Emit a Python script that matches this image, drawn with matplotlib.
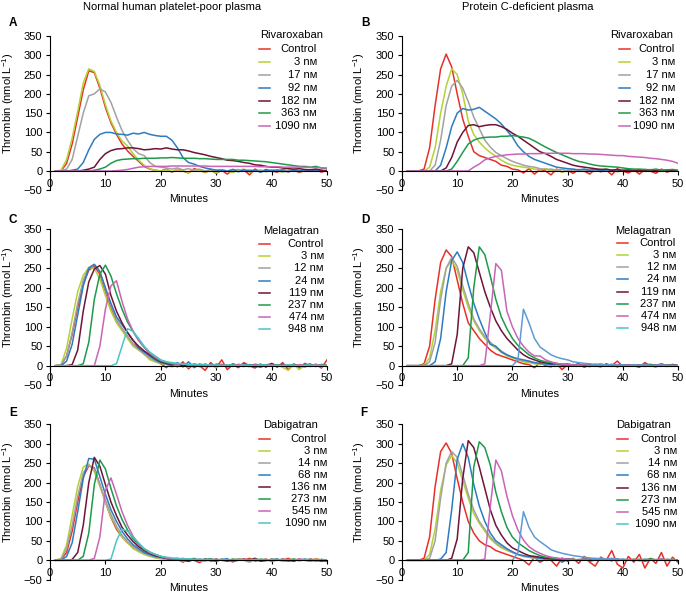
import numpy as np
import matplotlib
matplotlib.use('Agg')
import matplotlib.pyplot as plt
from matplotlib.lines import Line2D

plt.rcParams['font.family'] = ['Liberation Sans', 'DejaVu Sans']
plt.rcParams['mathtext.fontset'] = 'custom'
plt.rcParams['mathtext.rm'] = 'Liberation Sans'
plt.rcParams['mathtext.it'] = 'Liberation Sans:italic'
plt.rcParams['mathtext.bf'] = 'Liberation Sans:bold'

# ---------------- data (thrombin, nmol/L, sampled each minute 1..50) ----------------
minutes = np.arange(1, 51)

x_ticks = [0, 10, 20, 30, 40, 50]
y_ticks = [-50, 0, 50, 100, 150, 200, 250, 300, 350]

riva_labels = ['Control', '3 nᴍ', '17 nᴍ', '92 nᴍ', '182 nᴍ', '363 nᴍ', '1090 nᴍ']
mela_labels = ['Control', '3 nᴍ', '12 nᴍ', '24 nᴍ', '119 nᴍ', '237 nᴍ', '474 nᴍ', '948 nᴍ']
dabi_labels = ['Control', '3 nᴍ', '14 nᴍ', '68 nᴍ', '136 nᴍ', '273 nᴍ', '545 nᴍ', '1090 nᴍ']

# Panel A: normal plasma, rivaroxaban
a_ctrl = [0, 0, 20, 70, 140, 210, 260, 255, 215, 165,
          125, 95, 70, 52, 38, 25, 12, 5, 2, 0,
          5, -3, 4, 0, -5, 6, 2, -4, 3, -6,
          2, -8, 4, 0, 3, -10, 5, -2, 4, 0,
          -3, 5, -2, 3, -4, 2, 0, 4, -3, 2]
a_3 = [0, 2, 30, 85, 155, 228, 265, 258, 222, 172,
       130, 100, 78, 65, 45, 28, 15, 6, 2, 0,
       3, -2, 5, 0, -4, 3, 1, -3, 2, -5,
       3, 0, -4, 2, 5, -3, 0, 2, -2, 3,
       0, -3, 2, 4, -2, 0, 3, -1, 2, 0]
a_17 = [0, 0, 5, 30, 90, 150, 195, 200, 213, 205,
        178, 140, 105, 80, 58, 45, 40, 22, 12, 10,
        8, 5, 8, 3, 6, 2, 5, 0, 4, 2,
        3, 0, 2, 4, 0, 3, 1, 2, 0, 3,
        1, 2, 0, 3, 1, 2, 0, 2, 1, 0]
a_92 = [0, 0, 0, 2, 5, 22, 55, 82, 95, 100,
        100, 96, 95, 93, 98, 96, 100, 95, 92, 90,
        90, 80, 60, 35, 22, 18, 12, 8, 5, 2,
        2, 0, 4, -2, 3, 0, 2, -3, 2, 0,
        3, 0, -2, 2, 0, 3, -1, 2, 0, 1]
a_182 = [0, 0, 0, 0, 0, 2, 5, 10, 30, 45,
         53, 57, 58, 60, 60, 58, 55, 56, 58, 57,
         60, 57, 55, 55, 52, 48, 45, 42, 38, 35,
         32, 28, 27, 25, 22, 20, 16, 15, 12, 10,
         10, 8, 6, 5, 6, 4, 3, 5, 2, 0]
a_363 = [0, 0, 0, 0, 0, 0, 0, 2, 5, 10,
         20, 27, 30, 31, 32, 32, 33, 33, 33, 34,
         34, 35, 34, 33, 33, 33, 32, 32, 31, 30,
         30, 30, 30, 28, 28, 27, 26, 25, 24, 22,
         20, 18, 16, 14, 12, 12, 10, 12, 8, 6]
a_1090 = [0, 0, 0, 0, 0, 0, 0, 0, 0, 0,
          0, 1, 2, 4, 7, 10, 11, 12, 12, 12,
          12, 13, 13, 13, 13, 13, 13, 13, 12, 12,
          12, 12, 12, 12, 12, 12, 12, 11, 11, 11,
          11, 10, 10, 10, 10, 10, 9, 9, 8, 8]

# Panel B: protein C-deficient plasma, rivaroxaban
b_ctrl = [0, 0, 0, 5, 60, 170, 265, 303, 270, 200,
          135, 90, 50, 40, 35, 30, 25, 15, 12, 5,
          3, -5, 6, -8, 4, 0, -10, 5, -3, 2,
          -6, 4, 0, -8, 5, -2, 3, -10, 6, 0,
          -5, 3, -8, 4, 0, -6, 5, -3, 2, 0]
b_3 = [0, 0, 0, 0, 10, 60, 150, 220, 265, 250,
       200, 130, 95, 75, 60, 48, 38, 28, 20, 15,
       12, 10, 8, 5, 3, 6, 0, 4, -3, 2,
       3, 0, 4, -2, 2, 5, 0, 3, -2, 2,
       0, 3, -2, 2, 4, 0, 2, -1, 3, 0]
b_17 = [0, 0, 0, 0, 0, 15, 80, 170, 220, 235,
        215, 180, 140, 110, 80, 62, 48, 40, 32, 25,
        20, 15, 12, 10, 6, 4, 5, 2, 4, 0,
        3, 2, 0, 3, 1, 2, 0, 2, 3, 0,
        2, 1, 3, 0, 2, 1, 0, 2, 1, 0]
b_92 = [0, 0, 0, 0, 0, 0, 15, 60, 115, 150,
        162, 158, 160, 165, 155, 145, 135, 122, 105, 88,
        65, 50, 38, 30, 25, 20, 15, 10, 8, 6,
        5, 3, 5, 2, 4, 0, 3, 2, 0, 3,
        2, 0, 3, 1, 2, 0, 2, 1, 0, 2]
b_182 = [0, 0, 0, 0, 0, 0, 0, 8, 35, 75,
         100, 118, 120, 115, 118, 120, 120, 115, 108, 98,
         90, 80, 70, 60, 50, 45, 38, 30, 25, 20,
         15, 12, 10, 8, 6, 4, 5, 2, 4, 0,
         3, 1, 2, 0, 2, 1, 0, 2, 1, 0]
b_363 = [0, 0, 0, 0, 0, 0, 0, 0, 5, 25,
         48, 70, 80, 85, 87, 88, 88, 90, 90, 92,
         90, 88, 85, 78, 70, 62, 55, 48, 42, 36,
         30, 25, 22, 18, 15, 13, 12, 11, 10, 8,
         6, 5, 5, 4, 3, 5, 2, 3, 4, 2]
b_1090 = [0, 0, 0, 0, 0, 0, 0, 0, 0, 0,
          0, 0, 10, 18, 29, 34, 38, 40, 42, 43,
          44, 44, 45, 45, 45, 46, 46, 46, 46, 46,
          45, 45, 45, 44, 44, 43, 42, 41, 40, 40,
          38, 37, 36, 35, 33, 32, 30, 28, 25, 20]

# Panel C: normal plasma, melagatran
c_ctrl = [0, 2, 25, 80, 150, 210, 245, 255, 235, 190,
          150, 115, 95, 75, 55, 45, 30, 20, 12, 5,
          -5, 8, -3, 10, -8, 5, 0, -12, 8, -5,
          15, -10, 3, -5, 8, 0, -6, 4, -3, 6,
          -4, 8, -10, 3, -5, 6, -2, 4, -6, 15]
c_3 = [0, 3, 45, 120, 190, 232, 252, 250, 222, 180,
       140, 110, 90, 70, 50, 40, 30, 15, 10, 5,
       3, -3, 5, 0, -4, 3, 1, -3, 2, -5,
       3, 0, -2, 4, 2, -3, 5, 0, -2, 3,
       2, -4, -12, 3, -10, 2, 0, 4, -3, 2]
c_12 = [0, 2, 25, 85, 160, 220, 252, 260, 240, 195,
        155, 118, 95, 75, 55, 42, 30, 20, 12, 6,
        4, 0, 3, -2, 2, 0, 3, -1, 2, 0,
        2, 0, 3, -2, 1, 0, 2, -1, 3, 0,
        1, 0, 2, -2, 1, 0, 3, 0, 2, 0]
c_24 = [0, 0, 12, 55, 130, 205, 250, 260, 242, 200,
        160, 125, 105, 85, 65, 45, 35, 25, 15, 8,
        5, 0, 8, -3, 10, -5, 3, 0, -2, 4,
        2, -3, 5, 0, -2, 3, 0, -4, 2, 5,
        0, 3, -2, 4, 0, -3, 2, 0, 3, -2]
c_119 = [0, 0, 0, 3, 40, 140, 215, 248, 257, 235,
         180, 140, 110, 85, 65, 50, 38, 28, 18, 10,
         6, 3, 5, 0, 3, 2, -2, 4, 0, 2,
         3, 0, 2, -2, 4, 0, 2, 3, -3, 5,
         0, 2, -2, 3, 0, 2, 4, -2, 3, 0]
c_237 = [0, 0, 0, 0, 0, 5, 60, 170, 235, 258,
         230, 185, 145, 112, 88, 65, 47, 32, 20, 12,
         8, 5, 3, 6, 2, 0, 4, 2, 0, 3,
         2, 0, 3, 1, 0, 2, 0, 3, 1, 0,
         2, 0, 1, 3, 0, 2, 1, 0, 2, 0]
c_474 = [0, 0, 0, 0, 0, 0, 0, 0, 50, 145,
         205, 218, 165, 120, 88, 65, 48, 32, 22, 14,
         10, 6, 4, 5, 2, 0, 3, 1, 2, 0,
         2, 1, 0, 3, 1, 0, 2, 0, 1, 2,
         0, 1, 2, 0, 3, 1, 0, 2, 1, 0]
c_948 = [0, 0, 0, 0, 0, 0, 0, 0, 0, 0,
         0, 5, 50, 95, 88, 70, 50, 35, 25, 15,
         10, 8, 6, 5, 3, 4, 2, 3, 1, 2,
         0, 2, 1, 0, 2, 1, 0, 2, 1, 0,
         1, 0, 2, 1, 0, 1, 2, 0, 1, 0]

# Panel D: protein C-deficient plasma, melagatran
d_ctrl = [0, 0, 0, 5, 50, 170, 265, 297, 280, 220,
          160, 110, 90, 70, 55, 40, 30, 25, 20, 15,
          10, 5, 3, -5, 8, 0, -3, 5, -10, 3,
          0, 6, -4, 2, 0, -3, 5, 0, 12, -2,
          3, 0, -4, 8, 0, -3, 5, 0, 2, 0]
d_3 = [0, 0, 0, 2, 20, 90, 190, 250, 270, 245,
       195, 150, 115, 90, 70, 55, 45, 35, 25, 20,
       15, 10, 8, 5, 3, 6, 0, 4, -3, 2,
       3, 0, 4, -2, 2, 5, 0, 3, -2, 2,
       0, 3, -2, 2, 4, 0, 2, -1, 3, 0]
d_12 = [0, 0, 0, 0, 10, 60, 170, 250, 278, 255,
        205, 160, 120, 95, 75, 60, 48, 38, 28, 22,
        16, 12, 10, 7, 5, 3, 4, 2, 0, 3,
        2, 0, 3, -2, 1, 0, 2, -1, 3, 0,
        1, 0, 2, -2, 1, 0, 3, 0, 2, 0]
d_24 = [0, 0, 0, 0, 0, 10, 70, 190, 270, 292,
        265, 210, 160, 120, 85, 55, 50, 35, 28, 22,
        18, 15, 12, 8, 6, 5, 3, 4, 2, 0,
        3, 0, 2, -2, 4, 0, 2, 3, -3, 2,
        0, 2, -2, 3, 0, 2, 4, -2, 3, 0]
d_119 = [0, 0, 0, 0, 0, 0, 0, 0, 5, 80,
         250, 305, 290, 240, 190, 150, 115, 90, 70, 55,
         40, 28, 20, 15, 10, 8, 5, 6, 3, 4,
         2, 0, 3, 1, 2, 0, 3, 1, 0, 2,
         1, 0, 2, 3, 0, 1, 2, 0, 3, 0]
d_237 = [0, 0, 0, 0, 0, 0, 0, 0, 0, 0,
         0, 20, 200, 305, 285, 230, 170, 125, 95, 70,
         52, 40, 28, 20, 14, 10, 8, 5, 4, 3,
         2, 0, 3, 1, 0, 2, 1, 3, 0, 2,
         1, 0, 2, 0, 3, 1, 0, 2, 1, 0]
d_474 = [0, 0, 0, 0, 0, 0, 0, 0, 0, 0,
         0, 0, 0, 0, 5, 130, 262, 245, 140, 100,
         70, 50, 35, 25, 25, 15, 10, 6, 4, 3,
         2, 1, 3, 0, 2, 1, 0, 2, 1, 0,
         2, 0, 1, 2, 0, 1, 3, 0, 1, 0]
d_948 = [0, 0, 0, 0, 0, 0, 0, 0, 0, 0,
         0, 0, 0, 0, 0, 0, 0, 0, 0, 0,
         15, 145, 110, 70, 48, 38, 28, 22, 18, 15,
         10, 8, 6, 5, 3, 4, 2, 3, 1, 2,
         0, 2, 1, 3, 0, 1, 2, 0, 1, 0]

# Panel E: normal plasma, dabigatran
e_ctrl = [0, 2, 20, 75, 150, 215, 243, 238, 195, 150,
          110, 80, 60, 45, 35, 25, 20, 15, 10, 8,
          5, 0, 3, -5, 4, 0, -6, 3, 0, -3,
          2, 0, -4, 3, 0, 5, -2, 0, 3, -3,
          2, 0, 5, -2, 3, 0, -2, 4, 0, -3]
e_3 = [0, 5, 40, 115, 190, 240, 248, 228, 190, 150,
       112, 85, 60, 45, 30, 22, 15, 10, 6, 4,
       3, 0, 4, -2, 3, 5, 0, -3, 2, 0,
       3, -2, 0, 4, 2, -3, 5, 0, -2, 3,
       2, -3, 0, 3, -2, 2, 0, 4, -3, 2]
e_14 = [0, 3, 30, 90, 165, 225, 245, 235, 195, 155,
        118, 88, 65, 48, 35, 25, 18, 12, 8, 5,
        3, 0, 2, -3, 0, 4, -2, 0, 3, 0,
        2, 0, -2, 3, 0, -5, 2, 0, 3, -2,
        0, 2, -2, 0, 3, 0, -2, 2, 0, 0]
e_68 = [0, 0, 10, 45, 125, 210, 262, 260, 215, 170,
        130, 100, 75, 55, 40, 30, 20, 15, 10, 8,
        5, 2, 4, 0, -3, 2, 0, 3, -2, 0,
        2, 4, -3, 0, 2, 0, 3, -2, 0, 2,
        3, 0, -2, 2, 0, 3, 0, -2, 2, 0]
e_136 = [0, 0, 0, 2, 20, 90, 200, 265, 242, 195,
         150, 115, 85, 65, 48, 35, 25, 18, 12, 8,
         5, 3, 0, 2, -2, 3, 0, 2, 0, 3,
         0, -2, 2, 0, 3, 0, 5, -2, 0, 2,
         0, 3, 0, -2, 2, 0, 3, 0, -2, 0]
e_273 = [0, 0, 0, 0, 0, 10, 70, 195, 258, 235,
         185, 140, 105, 78, 55, 40, 28, 20, 15, 10,
         6, 3, 5, 2, 0, 3, 0, 2, 4, 0,
         2, 0, 3, 1, 0, 2, 0, 3, 1, 0,
         2, 0, 1, 3, 0, 2, 1, 0, 2, 0]
e_545 = [0, 0, 0, 0, 0, 0, 0, 5, 60, 180,
         212, 170, 125, 90, 62, 42, 30, 20, 15, 10,
         6, 4, 3, 5, 2, 0, 3, 1, 2, 0,
         2, 1, 0, 3, 1, 0, 2, 0, 1, 2,
         0, 1, 2, 0, 3, 1, 0, 2, 1, 0]
e_1090 = [0, 0, 0, 0, 0, 0, 0, 0, 0, 0,
          3, 50, 80, 75, 60, 45, 30, 22, 15, 10,
          8, 6, 5, 3, 4, 2, 3, 1, 2, 0,
          2, 1, 0, 2, 1, 0, 2, 1, 0, 1,
          0, 2, 1, 0, 1, 2, 0, 1, 0, 1]

# Panel F: protein C-deficient plasma, dabigatran
f_ctrl = [0, 0, 0, 5, 60, 190, 280, 302, 275, 210,
          150, 100, 70, 50, 40, 35, 25, 20, 15, 10,
          5, 0, -12, 8, -5, 3, 0, -15, 6, -3,
          5, -8, 10, -5, -15, 8, 0, 25, -10, -20,
          10, -5, 15, -20, 5, -8, 20, -15, 8, -5]
f_3 = [0, 0, 0, 0, 15, 80, 180, 245, 270, 250,
       205, 160, 120, 95, 75, 55, 42, 32, 25, 20,
       15, 10, 8, 5, 3, 6, 0, 4, -3, 2,
       3, 0, 4, -2, 2, 5, 0, 3, -2, 2,
       0, 3, -2, 2, 4, 0, 2, -1, 3, 0]
f_14 = [0, 0, 0, 0, 5, 50, 160, 250, 280, 265,
        220, 170, 130, 100, 80, 60, 45, 35, 28, 20,
        15, 10, 8, 5, 6, 3, 4, 2, 0, 3,
        2, 0, 3, -2, 1, 0, 2, -1, 3, 0,
        1, 0, 2, -2, 1, 0, 3, 0, 2, 0]
f_68 = [0, 0, 0, 0, 0, 0, 3, 20, 130, 260,
        300, 265, 195, 140, 100, 70, 50, 40, 30, 22,
        15, 12, 10, 8, 5, 4, 3, 5, -5, 3,
        2, 0, 3, -2, 1, 0, 2, -1, 3, 0,
        1, 0, 2, -2, 1, 0, 3, 0, 2, 0]
f_136 = [0, 0, 0, 0, 0, 0, 0, 0, 5, 55,
         210, 308, 290, 240, 185, 130, 90, 65, 45, 32,
         25, 18, 12, 10, 8, 5, 4, 3, 2, 3,
         0, 2, 1, 3, 0, 2, 1, 0, 2, 1,
         0, 2, 1, 0, 3, 1, 0, 2, 1, 0]
f_273 = [0, 0, 0, 0, 0, 0, 0, 0, 0, 0,
         0, 20, 240, 305, 290, 245, 175, 125, 85, 60,
         45, 35, 25, 18, 12, 8, 6, 4, 3, 2,
         2, 0, 3, 1, 0, 2, 1, 3, 0, 2,
         1, 0, 2, 0, 3, 1, 0, 2, 1, 0]
f_545 = [0, 0, 0, 0, 0, 0, 0, 0, 0, 0,
         0, 0, 0, 0, 3, 140, 258, 230, 165, 115,
         78, 52, 35, 25, 18, 12, 8, 6, 4, 3,
         2, 1, 3, 0, 2, 1, 0, 2, 1, 0,
         2, 0, 1, 2, 0, 1, 3, 0, 1, 0]
f_1090 = [0, 0, 0, 0, 0, 0, 0, 0, 0, 0,
          0, 0, 0, 0, 0, 0, 0, 0, 0, 0,
          20, 125, 85, 60, 48, 38, 27, 22, 18, 15,
          12, 10, 8, 6, 5, 4, 3, 5, 2, 3,
          1, 2, 0, 3, 1, 2, 0, 1, 2, 0]

# ---------------- styling ----------------
RED, YG, GRAY, BLUE = '#e8302a', '#b4d236', '#a2a2a2', '#2c7cc1'
MAROON, GREEN, PINK, CYAN, LBLUE = '#6e1538', '#1f9a4a', '#c965b5', '#4cc4c7', '#5e9bd3'

W, H = 686, 596
fig = plt.figure(figsize=(W / 100, H / 100), dpi=100)


def rect(left_px, right_px, top_px, bottom_px):
    return [left_px / W, 1 - bottom_px / H, (right_px - left_px) / W, (bottom_px - top_px) / H]


panels = [
    dict(r=rect(50, 327, 36, 190.3), letter='A', lxy=(13, 23), drug='Rivaroxaban', labels=riva_labels,
         series=[a_ctrl, a_3, a_17, a_92, a_182, a_363, a_1090],
         colors=[RED, YG, GRAY, BLUE, MAROON, GREEN, PINK], lcolors=None, ylx=16,
         title_x=0.758, line_x=(0.755, 0.794), lab_x=0.964, title_y=35, first_y=49, step=12.9),
    dict(r=rect(402, 678, 36, 190.3), letter='B', lxy=(365, 23), drug='Rivaroxaban', labels=riva_labels,
         series=[b_ctrl, b_3, b_17, b_92, b_182, b_363, b_1090],
         colors=[RED, YG, GRAY, BLUE, MAROON, GREEN, PINK], lcolors=None, ylx=367,
         title_x=0.754, line_x=(0.786, 0.826), lab_x=0.989, title_y=35, first_y=49, step=12.9),
    dict(r=rect(50, 327, 229.3, 385.2), letter='C', lxy=(13, 220), drug='Melagatran', labels=mela_labels,
         series=[c_ctrl, c_3, c_12, c_24, c_119, c_237, c_474, c_948],
         colors=[RED, YG, GRAY, BLUE, MAROON, GREEN, PINK, CYAN], lcolors=None, ylx=16,
         title_x=0.769, line_x=(0.755, 0.794), lab_x=0.989, title_y=230.7, first_y=244, step=12.19),
    dict(r=rect(402, 678, 229.3, 385.2), letter='D', lxy=(365, 220), drug='Melagatran', labels=mela_labels,
         series=[d_ctrl, d_3, d_12, d_24, d_119, d_237, d_474, d_948],
         colors=[RED, YG, GRAY, BLUE, MAROON, GREEN, PINK, LBLUE],
         lcolors=[RED, YG, GRAY, BLUE, MAROON, GREEN, PINK, CYAN], ylx=367,
         title_x=0.772, line_x=(0.779, 0.819), lab_x=0.993, title_y=230.7, first_y=243, step=12.14),
    dict(r=rect(50, 327, 424.3, 579.7), letter='E', lxy=(13, 413), drug='Dabigatran', labels=dabi_labels,
         series=[e_ctrl, e_3, e_14, e_68, e_136, e_273, e_545, e_1090],
         colors=[RED, YG, GRAY, BLUE, MAROON, GREEN, PINK, CYAN], lcolors=None, ylx=16,
         title_x=0.769, line_x=(0.755, 0.794), lab_x=1.0, title_y=425.3, first_y=438.7, step=12.0),
    dict(r=rect(402, 678, 424.3, 579.7), letter='F', lxy=(364, 413), drug='Dabigatran', labels=dabi_labels,
         series=[f_ctrl, f_3, f_14, f_68, f_136, f_273, f_545, f_1090],
         colors=[RED, YG, GRAY, BLUE, MAROON, GREEN, PINK, LBLUE],
         lcolors=[RED, YG, GRAY, BLUE, MAROON, GREEN, PINK, CYAN], ylx=367,
         title_x=0.775, line_x=(0.779, 0.819), lab_x=0.996, title_y=425, first_y=439, step=12.14),
]

FS = 8
for p in panels:
    ax = fig.add_axes(p['r'])
    for vals, c in zip(p['series'], p['colors']):
        ax.plot(minutes, vals, color=c, lw=1.1, solid_joinstyle='round')
    ax.set_xlim(0, 50)
    ax.set_ylim(-50, 350)
    ax.set_xticks(x_ticks)
    ax.set_yticks(y_ticks)
    for s in ('top', 'right'):
        ax.spines[s].set_visible(False)
    ax.spines['bottom'].set_position(('data', 0))
    for s in ('left', 'bottom'):
        ax.spines[s].set_linewidth(0.8)
    ax.tick_params(direction='out', length=3, width=0.8, labelsize=FS, pad=2.5)
    x0, y0, w, h = p['r']
    ax.set_ylabel('Thrombin (nmol L$^{-1}$)', fontsize=FS)
    ax.yaxis.set_label_coords((p['ylx'] / W - x0) / w, 0.5625)
    ax.set_xlabel('Minutes', fontsize=FS)
    ax.xaxis.set_label_coords(0.5, -0.022)

    # manual legend (right-aligned labels)
    top_px = (1 - (y0 + h)) * H
    hpx = h * H

    def yfrac(ypx):
        return 1 - (ypx - top_px) / hpx

    ax.text(p['title_x'], yfrac(p['title_y']), p['drug'], transform=ax.transAxes,
            ha='left', va='center', fontsize=FS)
    lcols = p['lcolors'] or p['colors']
    for i, (lab, c) in enumerate(zip(p['labels'], lcols)):
        yy = yfrac(p['first_y'] + i * p['step'])
        ax.add_line(Line2D(list(p['line_x']), [yy, yy], transform=ax.transAxes,
                           color=c, lw=1.1, clip_on=False))
        ax.text(p['lab_x'], yy, lab, transform=ax.transAxes, ha='right', va='center',
                fontsize=FS, clip_on=False)

    fig.text(p['lxy'][0] / W, 1 - p['lxy'][1] / H, p['letter'], fontsize=8.5,
             fontweight='bold', ha='center', va='center')

fig.text(172 / W, 1 - 7 / H, 'Normal human platelet-poor plasma', fontsize=FS, ha='center', va='center')
fig.text(528 / W, 1 - 7 / H, 'Protein C-deficient plasma', fontsize=FS, ha='center', va='center')

fig.savefig('out.png', dpi=100)
